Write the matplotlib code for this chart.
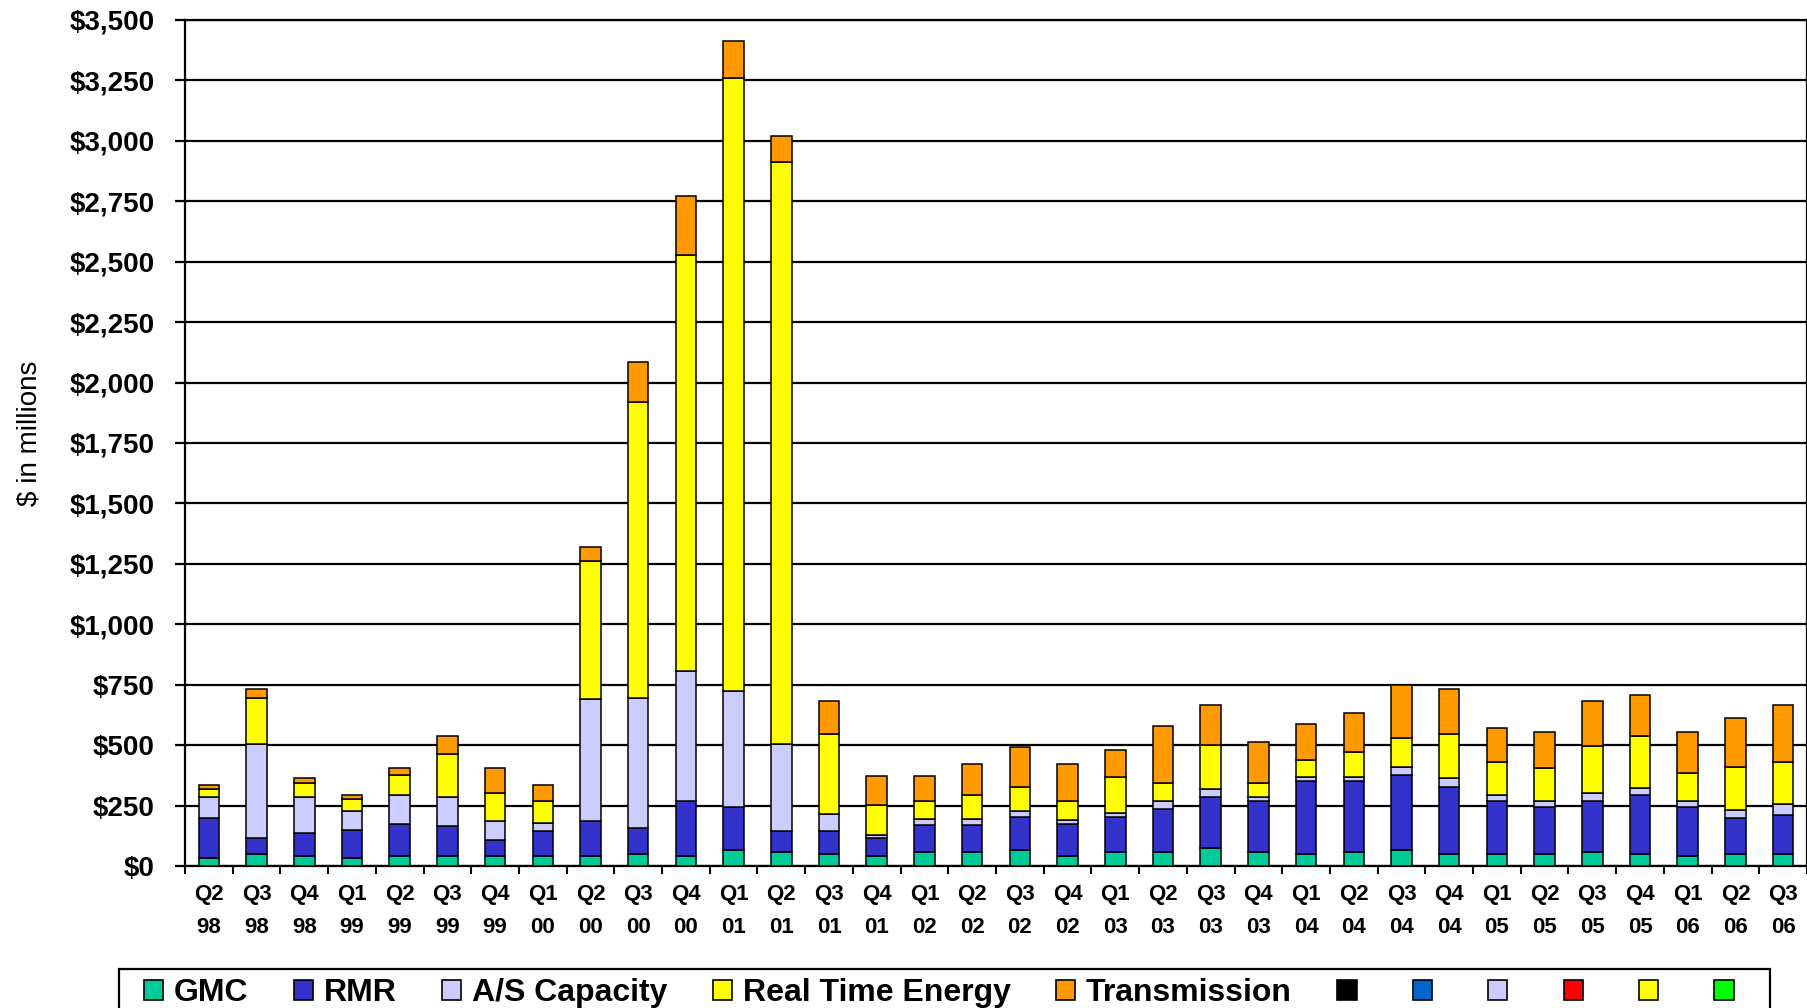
import matplotlib
matplotlib.use("Agg")
import matplotlib.pyplot as plt
from matplotlib.patches import Patch, Rectangle
from matplotlib.ticker import FuncFormatter, FixedLocator
import numpy as np

plt.rcParams['font.family'] = ['Liberation Sans', 'DejaVu Sans']

# quarterly costs, $ millions
quarters = ['Q2', 'Q3', 'Q4'] + ['Q1', 'Q2', 'Q3', 'Q4'] * 7 + ['Q1', 'Q2', 'Q3']
years = ['98'] * 3 + [y for y in ['99', '00', '01', '02', '03', '04', '05'] for _ in range(4)] + ['06'] * 3

gmc = [33, 48, 41, 32, 41, 41, 41, 41, 41, 50, 40, 67, 57, 50, 40, 58, 58,
       65, 40, 58, 58, 75, 58, 50, 58, 66, 50, 50, 50, 58, 50, 41, 50, 50]
rmr = [167, 69, 94, 118, 134, 126, 68, 103, 144, 109, 229, 178, 88, 93, 76, 110, 110,
       138, 135, 145, 179, 211, 210, 301, 293, 311, 277, 218, 194, 210, 243, 203, 150, 160]
as_capacity = [86, 387, 152, 76, 119, 120, 76, 33, 505, 537, 539, 480, 359, 73, 14, 25, 25,
               25, 17, 16, 32, 33, 18, 17, 17, 33, 35, 25, 24, 34, 29, 24, 33, 48]
rt_energy = [31, 193, 57, 50, 83, 175, 119, 92, 573, 1222, 1718, 2533, 2407, 331, 123, 76, 101,
             100, 77, 151, 76, 183, 59, 69, 103, 120, 183, 136, 136, 193, 216, 118, 177, 171]
transmission = [20, 34, 19, 18, 29, 76, 102, 68, 58, 168, 245, 154, 109, 135, 118, 102, 128,
                165, 153, 110, 236, 163, 168, 152, 160, 218, 186, 142, 151, 187, 169, 169, 204, 236]

series = [
    ('GMC', gmc, '#00CC99'),
    ('RMR', rmr, '#3333CC'),
    ('A/S Capacity', as_capacity, '#CCCCFF'),
    ('Real Time Energy', rt_energy, '#FFFF00'),
    ('Transmission', transmission, '#FF9900'),
]
extra_colors = ['#000000', '#0066CC', '#CCCCFF', '#FF0000', '#FFFF00', '#00FF00']

W, H = 1808, 1008
fig = plt.figure(figsize=(W / 100, H / 100), dpi=100)
ax = fig.add_axes([185 / W, 1 - 866 / H, (1807 - 185) / W, (866 - 20) / H])

x = np.arange(len(quarters))
bottom = np.zeros(len(quarters))
for name, vals, color in series:
    ax.bar(x, vals, width=0.43, bottom=bottom, color=color, edgecolor='black',
           linewidth=1.1, zorder=3)
    bottom += np.array(vals)

ax.set_xlim(-0.5, len(quarters) - 0.5)
ax.set_ylim(0, 3500)
ax.set_yticks(np.arange(0, 3501, 250))
ax.yaxis.set_major_formatter(FuncFormatter(lambda v, p: f'${v:,.0f}'))
ax.yaxis.grid(True, color='black', linewidth=1.6, zorder=1)
ax.set_axisbelow(True)

ax.set_xticks(x)
ax.set_xticklabels([f'{q}\n{y}' for q, y in zip(quarters, years)],
                   fontsize=16, fontweight='bold', linespacing=1.75)
ax.tick_params(axis='x', which='major', length=0, pad=13)
ax.xaxis.set_minor_locator(FixedLocator(np.arange(-0.5, len(quarters), 1.0)))
ax.tick_params(axis='x', which='minor', length=6, width=1.5, direction='out')
ax.tick_params(axis='y', length=7, width=1.6, direction='out', pad=15, labelsize=20)
for lbl in ax.get_yticklabels():
    lbl.set_fontweight('bold')

for side in ['left', 'right', 'top', 'bottom']:
    ax.spines[side].set_color('black')
    ax.spines[side].set_linewidth(1.6)

fig.text(30 / W, 1 - 433 / H, '$ in millions', rotation=90, ha='center', va='center',
         fontsize=20)

# legend: five named series plus six unlabeled swatches
handles = [Patch(facecolor=c, edgecolor='black', linewidth=1.2) for _, _, c in series]
handles += [Patch(facecolor=c, edgecolor='black', linewidth=1.2) for c in extra_colors]
labels = [name for name, _, _ in series] + [''] * len(extra_colors)

fig.patches.append(Rectangle((119 / W, -0.02), (1770 - 119) / W, (1 - 969 / H) + 0.02,
                             transform=fig.transFigure, facecolor='white',
                             edgecolor='black', linewidth=1.6, zorder=1))
leg = fig.legend(handles, labels, loc='upper left', bbox_to_anchor=(144 / W, 1 - 978 / H),
                 ncol=len(handles), frameon=False, borderpad=0, borderaxespad=0,
                 handlelength=0.6, handleheight=0.6, handletextpad=0.33,
                 columnspacing=1.43, prop={'size': 23, 'weight': 'bold'})
leg.set_zorder(5)

fig.savefig('out.png', dpi=100, facecolor='white')
